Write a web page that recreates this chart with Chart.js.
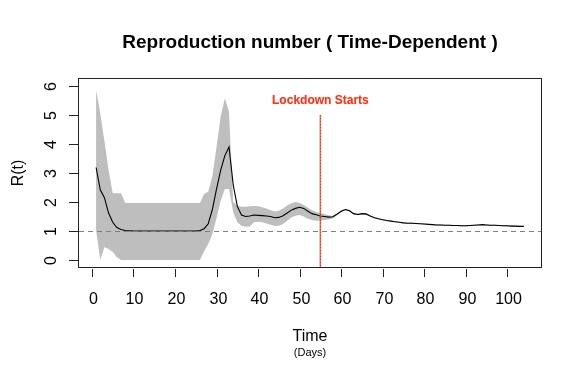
<!DOCTYPE html>
<html>
<head>
<meta charset="utf-8">
<script src="https://cdn.jsdelivr.net/npm/chart.js@4"></script>
<style>
  html, body { margin: 0; padding: 0; background: #fff; }
  #wrap { width: 582px; height: 366px; }
</style>
</head>
<body>
<div id="wrap"><canvas id="myChart" width="582" height="366"></canvas></div>
<script>
// days since first case
const days = [
  1,2,3,4,5,6,7,8,9,10,11,12,13,14,15,16,17,18,19,20,
  21,22,23,24,25,26,27,28,29,30,31,32,33,34,35,36,37,38,39,40,
  41,42,43,44,45,46,47,48,49,50,51,52,53,54,55,56,57,58,59,60,
  61,62,63,64,65,66,67,68,69,70,71,72,73,74,75,76,77,78,79,80,
  81,82,83,84,85,86,87,88,89,90,91,92,93,94,95,96,97,98,99,100,
  101,102,103,104
];

// mean R(t)
const meanR = [
  3.19,2.42,2.15,1.62,1.30,1.12,1.05,1.02,1.01,1.00,1.00,1.00,1.00,1.00,1.00,1.00,1.00,1.00,1.00,1.00,
  1.00,1.00,1.00,1.00,1.00,1.02,1.08,1.25,1.75,2.45,3.10,3.60,3.90,2.60,1.85,1.55,1.50,1.52,1.55,1.54,
  1.53,1.52,1.50,1.46,1.47,1.53,1.62,1.72,1.78,1.82,1.78,1.68,1.60,1.56,1.52,1.50,1.48,1.49,1.58,1.68,
  1.74,1.70,1.60,1.57,1.60,1.59,1.52,1.46,1.42,1.39,1.36,1.34,1.32,1.30,1.28,1.27,1.27,1.26,1.25,1.24,
  1.23,1.22,1.21,1.21,1.20,1.20,1.19,1.19,1.18,1.18,1.19,1.20,1.21,1.22,1.21,1.20,1.20,1.19,1.18,1.18,
  1.17,1.17,1.16,1.16
];

// upper bound of the band
const upperR = [
  5.85,5.05,4.10,3.10,2.30,2.30,2.30,1.97,1.97,1.97,1.97,1.97,1.97,1.97,1.97,1.97,1.97,1.97,1.97,1.97,
  1.97,1.97,1.97,1.97,1.97,1.97,2.28,2.35,2.90,3.90,4.95,5.58,5.10,2.00,1.88,1.84,1.84,1.85,1.86,1.85,
  1.82,1.78,1.72,1.67,1.70,1.78,1.88,1.96,2.00,1.97,1.90,1.80,1.72,1.66,1.62,1.58,1.54,1.52,1.61,1.71,
  1.77,1.73,1.63,1.60,1.62,1.61,1.54,1.48,1.44,1.41,1.38,1.36,1.34,1.32,1.30,1.29,1.29,1.28,1.27,1.26,
  1.25,1.24,1.23,1.23,1.22,1.22,1.21,1.21,1.20,1.20,1.21,1.22,1.23,1.24,1.23,1.22,1.22,1.21,1.20,1.20,
  1.19,1.19,1.18,1.18
];

// lower bound of the band
const lowerR = [
  1.02,0.00,0.45,0.38,0.28,0.10,0.00,0.00,0.00,0.00,0.00,0.00,0.00,0.00,0.00,0.00,0.00,0.00,0.00,0.00,
  0.00,0.00,0.00,0.00,0.00,0.00,0.30,0.55,0.90,1.45,2.05,2.45,2.45,1.65,1.30,1.18,1.15,1.16,1.30,1.32,
  1.30,1.26,1.22,1.17,1.18,1.24,1.35,1.47,1.53,1.55,1.50,1.42,1.38,1.35,1.36,1.38,1.40,1.43,1.55,1.65,
  1.71,1.67,1.57,1.54,1.57,1.56,1.50,1.44,1.40,1.37,1.34,1.32,1.30,1.28,1.26,1.25,1.25,1.24,1.23,1.22,
  1.21,1.20,1.19,1.19,1.18,1.18,1.17,1.17,1.16,1.16,1.17,1.18,1.19,1.20,1.19,1.18,1.18,1.17,1.16,1.16,
  1.15,1.15,1.14,1.14
];

const xTicks = [0,10,20,30,40,50,60,70,80,90,100];
const yTicks = [0,1,2,3,4,5,6];
const refLevel = 1;
const lockdownDay = 55;
const lockdownTop = 5;
const lockdownLabelAt = 5.5;

const FONT = '"Liberation Sans", Arial, Helvetica, sans-serif';

// R style box, axes and annotations
const rPlot = {
  id: 'rPlot',
  afterDatasetsDraw(chart) {
    const {ctx, chartArea: a, scales: {x, y}} = chart;
    ctx.save();
    ctx.beginPath();
    ctx.rect(a.left, a.top, a.right - a.left, a.bottom - a.top);
    ctx.clip();

    // horizontal reference at R = 1
    const yr = Math.round(y.getPixelForValue(refLevel)) + 0.5;
    ctx.strokeStyle = '#808080';
    ctx.lineWidth = 1.2;
    ctx.setLineDash([5, 4]);
    ctx.beginPath();
    ctx.moveTo(a.left, yr);
    ctx.lineTo(a.right, yr);
    ctx.stroke();

    // lockdown line
    const xl = x.getPixelForValue(lockdownDay);
    ctx.setLineDash([]);
    ctx.strokeStyle = 'rgba(214,80,58,0.8)';
    ctx.lineWidth = 1.6;
    ctx.beginPath();
    ctx.moveTo(xl, y.getPixelForValue(lockdownTop));
    ctx.lineTo(xl, a.bottom);
    ctx.stroke();
    ctx.strokeStyle = 'rgba(90,20,10,0.5)';
    ctx.lineWidth = 1;
    ctx.setLineDash([1, 2]);
    ctx.beginPath();
    ctx.moveTo(xl, y.getPixelForValue(lockdownTop));
    ctx.lineTo(xl, a.bottom);
    ctx.stroke();
    ctx.setLineDash([]);

    ctx.font = 'bold 12px ' + FONT;
    ctx.textAlign = 'center';
    ctx.textBaseline = 'middle';
    ctx.shadowColor = 'rgba(230,120,100,0.6)';
    ctx.shadowBlur = 2;
    ctx.fillStyle = '#d2462b';
    ctx.fillText('Lockdown Starts', xl, y.getPixelForValue(lockdownLabelAt));
    ctx.restore();
  },
  afterDraw(chart) {
    const {ctx, chartArea: a, scales: {x, y}} = chart;
    ctx.save();
    ctx.strokeStyle = '#222';
    ctx.lineWidth = 1;
    ctx.strokeRect(Math.round(a.left) - 0.5, Math.round(a.top) - 0.5,
      Math.round(a.right - a.left) + 1, Math.round(a.bottom - a.top) + 1);

    ctx.fillStyle = '#000';
    ctx.font = '16px ' + FONT;
    ctx.textAlign = 'center';
    ctx.textBaseline = 'alphabetic';
    xTicks.forEach(v => {
      const px = Math.round(x.getPixelForValue(v)) + 0.5;
      ctx.beginPath();
      ctx.moveTo(px, a.bottom + 2);
      ctx.lineTo(px, a.bottom + 10);
      ctx.stroke();
      ctx.fillText(String(v), px + 1, a.bottom + 37);
    });
    yTicks.forEach(v => {
      const py = Math.round(y.getPixelForValue(v)) + 0.5;
      ctx.beginPath();
      ctx.moveTo(a.left - 10, py);
      ctx.lineTo(a.left, py);
      ctx.stroke();
      ctx.save();
      ctx.translate(56, py);
      ctx.rotate(-Math.PI / 2);
      ctx.fillText(String(v), 0, 0);
      ctx.restore();
    });

    // titles
    const cx = (a.left + a.right) / 2;
    ctx.font = 'bold 19px ' + FONT;
    ctx.fillText('Reproduction number ( Time-Dependent )', cx, 48);
    ctx.font = '16px ' + FONT;
    ctx.fillText('Time', cx, 341);
    ctx.font = '11px ' + FONT;
    ctx.fillText('(Days)', cx, 356);
    ctx.save();
    ctx.font = '16px ' + FONT;
    ctx.translate(23, (a.top + a.bottom) / 2);
    ctx.rotate(-Math.PI / 2);
    ctx.fillText('R(t)', 0, 0);
    ctx.restore();
    ctx.restore();
  }
};

const ctx = document.querySelector('#myChart').getContext('2d');

const data = {
  labels: days,
  datasets: [
    {
      label: 'upper',
      data: upperR,
      borderColor: 'rgba(0,0,0,0)',
      borderWidth: 0,
      backgroundColor: '#BEBEBE',
      pointRadius: 0,
      fill: '+1',
      tension: 0,
      order: 2,
    },
    {
      label: 'lower',
      data: lowerR,
      borderColor: 'rgba(0,0,0,0)',
      borderWidth: 0,
      pointRadius: 0,
      fill: false,
      tension: 0,
      order: 2,
    },
    {
      label: 'R(t)',
      data: meanR,
      borderColor: '#000',
      borderWidth: 1.1,
      pointRadius: 0,
      fill: false,
      tension: 0,
      order: 1,
    }
  ]
};

const config = {
  type: 'line',
  data: data,
  options: {
    responsive: false,
    animation: false,
    layout: { padding: { left: 79, right: 41, top: 79, bottom: 99 } },
    plugins: {
      legend: { display: false },
      tooltip: { enabled: false },
    },
    scales: {
      x: { type: 'linear', min: -3.12, max: 108.12, display: false },
      y: { type: 'linear', min: -0.24, max: 6.24, display: false },
    }
  },
  plugins: [rPlot]
};

const myChart = new Chart(ctx, config);
</script>
</body>
</html>
